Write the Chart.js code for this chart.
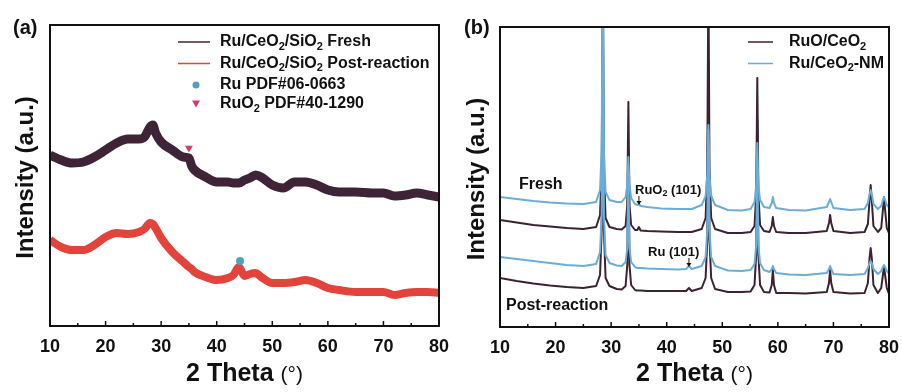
<!DOCTYPE html>
<html>
<head>
<meta charset="utf-8">
<script src="https://cdn.jsdelivr.net/npm/chart.js@4.4.1/dist/chart.umd.min.js"></script>
<style>
  html, body { margin: 0; padding: 0; background: #fff; }
  #wrap { position: relative; width: 902px; height: 392px; }
  canvas { position: absolute; top: 0; }
  #chartA { left: 0; }
  #chartB { left: 451px; }
</style>
</head>
<body>
<div id="wrap">
  <canvas id="chartA" width="451" height="392"></canvas>
  <canvas id="chartB" width="451" height="392"></canvas>
</div>
<script>
// ---- panel (a) data: 2 theta vs intensity (a.u., offset traces) ----
const twoThetaA = [10, 12, 14, 16, 18, 20, 22, 24, 26, 27, 28, 28.5, 29, 30, 32, 34, 35, 35.5, 36, 38,
  40, 42, 43, 44, 45, 46, 47, 48, 50, 52, 54, 56, 58, 60, 62, 65, 68, 70, 72, 74, 76, 78, 80];
const freshA = [171, 166, 163, 164, 169, 176, 183, 187, 187, 189, 199, 201, 193, 184, 176, 169, 168, 160, 156, 149,
  144, 144, 143, 143, 146, 148, 151, 149, 141, 138, 144, 144, 141, 136, 134, 134, 133, 133, 130, 131, 133, 131, 129];
const postA = [86, 79, 76, 76, 81, 89, 93, 92, 94, 97, 103, 102, 98, 88, 74, 64, 59, 57, 54, 49,
  46, 48, 51, 59, 50, 52, 53, 49, 43, 43, 44, 46, 43, 38, 36, 34, 34, 34, 31, 33, 34, 34, 33];
const ruO2Mark = [35.0, 178];   // RuO2 PDF#40-1290
const ruMark = [44.2, 65];      // Ru PDF#06-0663

// ---- panel (b) data ----
const twoThetaB = [10, 13, 16, 19, 22, 25, 27.3, 28.0, 28.3, 28.5,
  28.7, 29.0, 29.7, 31.0, 31.9, 32.6, 32.9, 33.1, 33.3, 33.6,
  34.3, 34.7, 35.0, 35.3, 36.5, 39, 42, 43.5, 44.0, 44.5,
  46.3, 47.0, 47.3, 47.5, 47.7, 48.0, 48.7, 51, 53.5, 55.1,
  55.8, 56.1, 56.3, 56.5, 56.8, 57.5, 58.5, 58.9, 59.1, 59.3,
  59.7, 62, 65, 68.8, 69.2, 69.4, 69.6, 70.0, 73, 75.6,
  76.2, 76.5, 76.7, 76.9, 77.2, 78.0, 78.6, 78.9, 79.1, 79.3,
  79.6, 80];
const freshNM = [130, 128, 126, 124.5, 123.5, 123, 125, 137, 177, 387,
  177, 135, 127, 125, 125, 130, 142, 170, 142, 129,
  123, 122, 123, 121, 120, 118.5, 118, 118, 118, 118,
  122, 131, 152, 202, 152, 131, 122, 117, 116.5, 118,
  125, 142, 184, 142, 127, 120, 119, 124, 130, 124,
  119, 117, 116.5, 120, 125, 128, 125, 119, 117, 118,
  124, 133, 137, 133, 123, 118, 121, 127, 130, 127,
  122, 120];
const freshRuO = [107, 104.5, 102, 100.5, 99, 98, 100, 112, 157, 357,
  157, 109, 100, 98, 97.5, 101, 122, 225, 122, 102,
  97, 97, 100, 96.5, 96, 95.5, 95, 95, 95, 95,
  98, 109, 157, 357, 157, 109, 98, 94, 94, 95,
  101, 132, 249, 132, 102, 96, 95, 101, 110, 101,
  95, 94, 94, 96, 104, 112, 104, 96, 94, 95,
  103, 127, 142, 127, 101, 95, 99, 117, 130, 117,
  99, 94];
const postNM = [70, 68, 66, 64, 62, 61, 63, 75, 112, 297,
  112, 72, 64, 61.5, 61, 65, 79, 152, 79, 65,
  60, 59, 59, 59, 58.5, 58, 57.5, 58, 61, 58,
  61, 70, 97, 197, 97, 70, 61, 56.5, 56, 57,
  63, 82, 157, 82, 64, 57, 55, 58, 61, 58,
  54, 52.5, 52, 54, 58, 61, 58, 53, 52, 53,
  59, 64, 66, 64, 58, 53, 56, 60, 62, 60,
  56, 53];
const postRuO = [49, 46, 43.5, 41.5, 40, 39, 41, 52, 97, 277,
  97, 49, 41, 38, 37.5, 41, 62, 177, 62, 42,
  37, 36.5, 36.5, 36.5, 36, 36, 36, 36, 39, 36,
  39, 49, 87, 267, 87, 49, 38, 35, 35, 35.5,
  42, 72, 207, 72, 42, 35, 34.5, 42, 57, 42,
  34, 34, 33.5, 35, 44, 57, 44, 35, 33.5, 34,
  44, 69, 79, 69, 42, 34, 39, 52, 60, 52,
  39, 33];

const FONT = "'Liberation Sans', Arial, Helvetica, sans-serif";
const DARK_A = '#3f2438';
const DARK_B = '#3d2233';
const BLUE = '#6aadd6';
const RED = '#e2443b';
const PINK = '#d9386b';
const DOT = '#4f9fc6';

const pts = (xs, ys) => xs.map((x, i) => ({ x: x, y: ys[i] }));

// text with "_2" style subscripts
function richText(ctx, x, y, str, size, sub) {
  const parts = str.split(/_(\d)/);
  ctx.textBaseline = 'middle';
  ctx.textAlign = 'left';
  let cx = x;
  parts.forEach((p, i) => {
    if (i % 2) {
      ctx.font = 'bold ' + sub + 'px ' + FONT;
      ctx.fillText(p, cx, y + size * 0.3);
    } else {
      ctx.font = 'bold ' + size + 'px ' + FONT;
      ctx.fillText(p, cx, y);
    }
    cx += ctx.measureText(p).width;
  });
}

function drawAxesDecor(chart, label) {
  const { ctx, chartArea: a, scales: { x } } = chart;
  ctx.save();
  ctx.strokeStyle = '#111';
  ctx.lineWidth = 2;
  ctx.strokeRect(a.left, a.top, a.right - a.left, a.bottom - a.top);
  // inward ticks
  ctx.lineWidth = 1.5;
  for (let v = 10; v <= 80; v += 5) {
    const px = x.getPixelForValue(v);
    const len = v % 10 === 0 ? 5 : 3;
    ctx.beginPath();
    ctx.moveTo(px, a.bottom);
    ctx.lineTo(px, a.bottom - len);
    ctx.stroke();
  }
  ctx.fillStyle = '#111';
  // y title
  ctx.save();
  ctx.translate(26, (a.top + a.bottom) / 2 + 2);
  ctx.rotate(-Math.PI / 2);
  ctx.font = 'bold 24px ' + FONT;
  ctx.textAlign = 'center';
  ctx.textBaseline = 'middle';
  ctx.fillText('Intensity (a.u.)', 0, 0);
  ctx.restore();
  // x title
  ctx.font = 'bold 25px ' + FONT;
  const w1 = ctx.measureText('2 Theta ').width;
  ctx.font = '21px ' + FONT;
  const w2 = ctx.measureText('(°)').width;
  let sx = (a.left + a.right) / 2 - (w1 + w2) / 2;
  ctx.textAlign = 'left';
  ctx.textBaseline = 'middle';
  ctx.font = 'bold 25px ' + FONT;
  ctx.fillText('2 Theta ', sx, 374);
  ctx.font = '21px ' + FONT;
  ctx.fillText('(°)', sx + w1, 375);
  // panel label
  ctx.font = 'bold 20px ' + FONT;
  ctx.fillText(label, 13, 28);
  ctx.restore();
}

const decorA = {
  id: 'decorA',
  afterDraw(chart) {
    const ctx = chart.ctx;
    drawAxesDecor(chart, '(a)');
    ctx.save();
    ctx.lineWidth = 1.5;
    const rows = [
      { y: 42, t: 'Ru/CeO_2/SiO_2 Fresh', c: DARK_A, kind: 'line' },
      { y: 63.5, t: 'Ru/CeO_2/SiO_2 Post-reaction', c: RED, kind: 'line' },
      { y: 85, t: 'Ru PDF#06-0663', c: DOT, kind: 'dot' },
      { y: 104, t: 'RuO_2 PDF#40-1290', c: PINK, kind: 'tri' }
    ];
    rows.forEach(r => {
      ctx.strokeStyle = r.c;
      ctx.fillStyle = r.c;
      if (r.kind === 'line') {
        ctx.beginPath(); ctx.moveTo(178, r.y); ctx.lineTo(210, r.y); ctx.stroke();
      } else if (r.kind === 'dot') {
        ctx.beginPath(); ctx.arc(196, r.y, 3.5, 0, Math.PI * 2); ctx.fill();
      } else {
        ctx.beginPath(); ctx.moveTo(192, r.y - 3.5); ctx.lineTo(200, r.y - 3.5); ctx.lineTo(196, r.y + 3.5); ctx.closePath(); ctx.fill();
      }
      ctx.fillStyle = '#111';
      richText(ctx, 220, r.y, r.t, 16, 11);
    });
    ctx.restore();
  }
};

const decorB = {
  id: 'decorB',
  afterDraw(chart) {
    const { ctx, scales: { x } } = chart;
    drawAxesDecor(chart, '(b)');
    ctx.save();
    ctx.lineWidth = 1.5;
    [[42, 'RuO/CeO_2', DARK_B], [63.5, 'Ru/CeO_2-NM', BLUE]].forEach(r => {
      ctx.strokeStyle = r[2];
      ctx.beginPath(); ctx.moveTo(297, r[0]); ctx.lineTo(322, r[0]); ctx.stroke();
      ctx.fillStyle = '#111';
      richText(ctx, 338, r[0], r[1], 16, 11);
    });
    ctx.fillStyle = '#111';
    richText(ctx, 68, 185, 'Fresh', 16, 11);
    richText(ctx, 55, 306, 'Post-reaction', 16, 11);
    richText(ctx, 184, 190, 'RuO_2 (101)', 13, 9);
    richText(ctx, 197, 252, 'Ru (101)', 13, 9);
    // small arrows
    [[x.getPixelForValue(35.0), 196, 205], [x.getPixelForValue(44.0), 258, 267]].forEach(ar => {
      ctx.strokeStyle = '#111';
      ctx.lineWidth = 1;
      ctx.beginPath(); ctx.moveTo(ar[0], ar[1]); ctx.lineTo(ar[0], ar[2] - 3); ctx.stroke();
      ctx.beginPath(); ctx.moveTo(ar[0] - 2.5, ar[2] - 4); ctx.lineTo(ar[0] + 2.5, ar[2] - 4); ctx.lineTo(ar[0], ar[2]); ctx.closePath(); ctx.fill();
    });
    ctx.restore();
  }
};

function xScale(h) {
  return {
    type: 'linear', min: 10, max: 80,
    ticks: { stepSize: 10, color: '#111', padding: 10, maxRotation: 0, font: { family: FONT, size: 18, weight: 'bold' } },
    grid: { display: false, drawTicks: false },
    border: { display: false },
    afterFit(s) { s.height = h; s.paddingLeft = 0; s.paddingRight = 0; }
  };
}

function lineSet(data, color, width, extra) {
  return Object.assign({
    data: data, borderColor: color, borderWidth: width, pointRadius: 0,
    fill: false, tension: 0, clip: 0, borderJoinStyle: 'round'
  }, extra || {});
}

new Chart(document.getElementById('chartA'), {
  type: 'line',
  data: {
    datasets: [
      lineSet([{ x: ruO2Mark[0], y: ruO2Mark[1] }], PINK, 0, { showLine: false, pointRadius: 4.5, pointStyle: 'triangle', pointRotation: 180, pointBackgroundColor: PINK, pointBorderWidth: 0 }),
      lineSet([{ x: ruMark[0], y: ruMark[1] }], DOT, 0, { showLine: false, pointRadius: 4, pointBackgroundColor: DOT, pointBorderWidth: 0 }),
      lineSet(pts(twoThetaA, freshA), DARK_A, 9, { tension: 0.35, cubicInterpolationMode: 'monotone' }),
      lineSet(pts(twoThetaA, postA), RED, 8, { tension: 0.35, cubicInterpolationMode: 'monotone' })
    ]
  },
  options: {
    responsive: false, animation: false, devicePixelRatio: 1,
    layout: { padding: { left: 50, right: 12, top: 25, bottom: 0 } },
    plugins: { legend: { display: false }, tooltip: { enabled: false } },
    scales: { x: xScale(66), y: { display: false, min: 0, max: 301 } }
  },
  plugins: [decorA]
});

new Chart(document.getElementById('chartB'), {
  type: 'line',
  data: {
    datasets: [
      lineSet(pts(twoThetaB, freshNM), BLUE, 2),
      lineSet(pts(twoThetaB, postNM), BLUE, 2),
      lineSet(pts(twoThetaB, freshRuO), DARK_B, 2),
      lineSet(pts(twoThetaB, postRuO), DARK_B, 2)
    ]
  },
  options: {
    responsive: false, animation: false, devicePixelRatio: 1,
    layout: { padding: { left: 49, right: 13, top: 27, bottom: 0 } },
    plugins: { legend: { display: false }, tooltip: { enabled: false } },
    scales: { x: xScale(65), y: { display: false, min: 0, max: 300 } }
  },
  plugins: [decorB]
});
</script>
</body>
</html>
